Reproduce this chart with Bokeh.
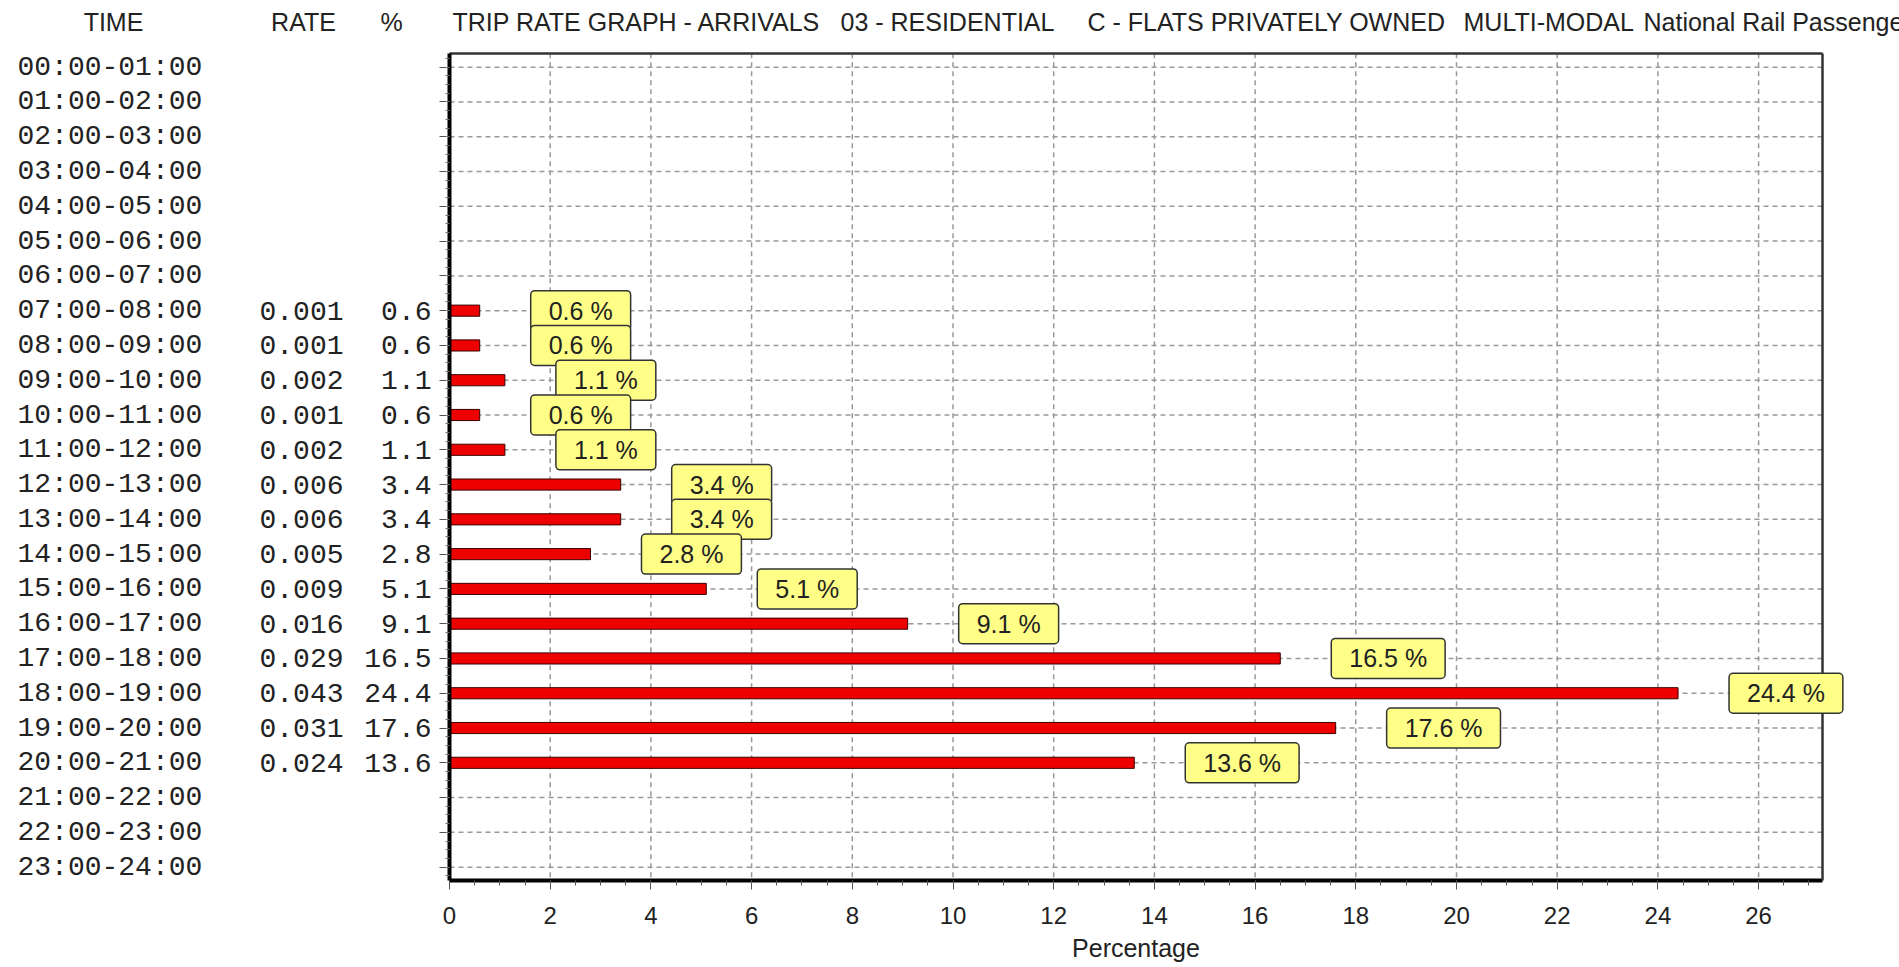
from bokeh.plotting import figure
from bokeh.models import Range1d, FixedTicker, Label, LinearAxis
from bokeh.core.properties import value
from bokeh.embed import file_html
from bokeh.resources import INLINE
import numpy as np

# ---------------- data ----------------
times = ["00:00-01:00", "01:00-02:00", "02:00-03:00", "03:00-04:00", "04:00-05:00",
         "05:00-06:00", "06:00-07:00", "07:00-08:00", "08:00-09:00", "09:00-10:00",
         "10:00-11:00", "11:00-12:00", "12:00-13:00", "13:00-14:00", "14:00-15:00",
         "15:00-16:00", "16:00-17:00", "17:00-18:00", "18:00-19:00", "19:00-20:00",
         "20:00-21:00", "21:00-22:00", "22:00-23:00", "23:00-24:00"]
rates = [None, None, None, None, None, None, None,
         0.001, 0.001, 0.002, 0.001, 0.002, 0.006, 0.006, 0.005, 0.009,
         0.016, 0.029, 0.043, 0.031, 0.024,
         None, None, None]
percents = [None, None, None, None, None, None, None,
            0.6, 0.6, 1.1, 0.6, 1.1, 3.4, 3.4, 2.8, 5.1,
            9.1, 16.5, 24.4, 17.6, 13.6,
            None, None, None]
header_cols = ["TIME", "RATE", "%"]
title_parts = ["TRIP RATE GRAPH - ARRIVALS", "03 - RESIDENTIAL", "C - FLATS PRIVATELY OWNED",
               "MULTI-MODAL", "National Rail Passengers"]
x_ticks = list(range(0, 28, 2))
x_label = "Percentage"

# ---------------- layout / styling ----------------
W, H = 1899, 967
X0, XU = 449.0, 50.35      # canvas px of x=0, px per percent
Y0, YU = 66.7, 34.78       # canvas px of first row, px per row
X_MAX, Y_TOP, Y_BOT = 27.27, -0.40, 23.38   # plotting area


def cx(px):
    return (px - X0) / XU


def cy(py):
    return (py - Y0) / YU


SANS = "Liberation Sans"
MONO = "Liberation Mono"
TXT = "#222222"
GRID = "#999999"

p = figure(width=W, height=H, output_backend="svg", toolbar_location=None,
           x_range=Range1d(cx(0), cx(W)), y_range=Range1d(cy(H), cy(0)),
           min_border=0, min_border_left=0, min_border_right=0,
           min_border_top=0, min_border_bottom=0,
           background_fill_color="white", border_fill_color="white")
p.outline_line_color = None
p.grid.visible = False

nrows = len(times)
rows = list(range(nrows))

# dashed grid lines restricted to the plotting area
p.segment(x0=[0] * nrows, x1=[X_MAX] * nrows, y0=rows, y1=rows,
          line_color=GRID, line_dash="5 4", line_width=1.5)
vg = [t for t in x_ticks if t > 0]
p.segment(x0=vg, x1=vg, y0=[Y_TOP] * len(vg), y1=[Y_BOT] * len(vg),
          line_color=GRID, line_dash="5 4", line_width=1.5)

# x axis (bottom of plotting area)
xa = p.xaxis[0]
xa.fixed_location = Y_BOT
xa.bounds = (0, X_MAX)
xa.ticker = FixedTicker(ticks=x_ticks, minor_ticks=list(np.arange(0, 27.5, 0.5)))
xa.axis_line_width = 4
xa.axis_line_color = "black"
xa.major_tick_out = 9
xa.major_tick_in = 0
xa.minor_tick_out = 5
xa.minor_tick_in = 0
xa.major_tick_line_color = "#555555"
xa.minor_tick_line_color = "#555555"
xa.major_label_text_font = SANS
xa.major_label_text_font_size = "24px"
xa.major_label_text_color = TXT
xa.major_label_standoff = 18
xa.axis_label = x_label
xa.axis_label_text_font = SANS
xa.axis_label_text_font_size = "25px"
xa.axis_label_text_font_style = "normal"
xa.axis_label_text_color = TXT
xa.axis_label_standoff = 6

# y axis (left of plotting area)
ya = p.yaxis[0]
ya.fixed_location = 0
ya.bounds = (Y_TOP, Y_BOT)
ya.ticker = FixedTicker(ticks=rows, minor_ticks=list(np.arange(-0.25, 23.5, 0.25)))
ya.axis_line_width = 4
ya.axis_line_color = "black"
ya.major_tick_out = 10
ya.major_tick_in = 0
ya.minor_tick_out = 4
ya.minor_tick_in = 0
ya.major_tick_line_color = "#555555"
ya.minor_tick_line_color = "#777777"
ya.major_label_text_font_size = "0px"
ya.major_label_text_alpha = 0

# top and right border lines
top = LinearAxis(fixed_location=Y_TOP, bounds=(0, X_MAX), ticker=FixedTicker(ticks=[]),
                 axis_line_color="#333333", axis_line_width=2.5,
                 major_tick_out=0, minor_tick_out=0, major_label_text_font_size="0px")
right = LinearAxis(fixed_location=X_MAX, bounds=(Y_TOP, Y_BOT), ticker=FixedTicker(ticks=[]),
                   axis_line_color="#333333", axis_line_width=2.5,
                   major_tick_out=0, minor_tick_out=0, major_label_text_font_size="0px")
p.add_layout(top, "above")
p.add_layout(right, "right")

# bars
idx = [i for i, v in enumerate(percents) if v is not None]
vals = [percents[i] for i in idx]
p.hbar(y=idx, left=0, right=vals, height=0.32,
       fill_color="#ee0000", line_color="#3a0000", line_width=1)

# value labels (yellow boxes)
for i, v in zip(idx, vals):
    p.add_layout(Label(x=v, y=i, x_offset=51, text=f"{v:.1f} %",
                       text_font=SANS, text_font_size="25px", text_color=TXT,
                       text_align="left", text_baseline="middle",
                       background_fill_color="#ffff88", border_line_color="#333333",
                       border_line_width=1.5, border_radius=4, padding=(18, 6)))

# left table
p.text(x=[cx(17)] * nrows, y=rows, text=times,
       text_font=value(MONO), text_font_size="28px", text_color=TXT,
       text_align="left", text_baseline="middle")
p.text(x=[cx(259)] * len(idx), y=idx, text=[f"{rates[i]:.3f}" for i in idx],
       text_font=value(MONO), text_font_size="28px", text_color=TXT,
       text_align="left", text_baseline="middle")
p.text(x=[cx(431)] * len(idx), y=idx, text=[f"{percents[i]:.1f}" for i in idx],
       text_font=value(MONO), text_font_size="28px", text_color=TXT,
       text_align="right", text_baseline="middle")

# header line
head_y = cy(21)
p.text(x=[cx(c) for c in (113, 303, 391)], y=[head_y] * 3, text=header_cols,
       text_font=value(SANS), text_font_size="25px", text_color=TXT,
       text_align="center", text_baseline="middle")
p.text(x=[cx(c) for c in (452, 840, 1087, 1463, 1643)], y=[head_y] * len(title_parts),
       text=title_parts, text_font=value(SANS), text_font_size="25px", text_color=TXT,
       text_align="left", text_baseline="middle")

open("out.html", "w").write(file_html(p, INLINE))
